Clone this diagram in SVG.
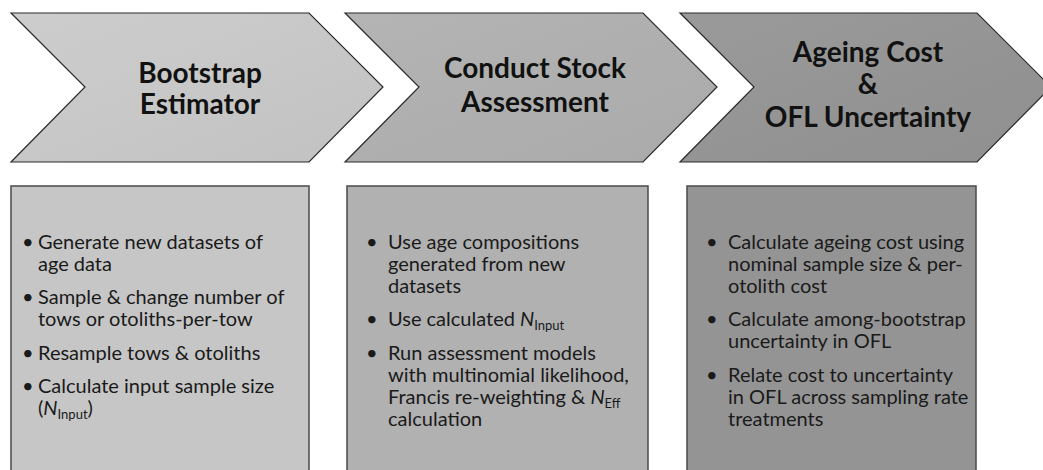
<svg xmlns="http://www.w3.org/2000/svg" width="1043" height="470" viewBox="0 0 1043 470">
<defs>
<linearGradient id="g1" x1="0" y1="0" x2="1" y2="1"><stop offset="0" stop-color="#cdcdcd"/><stop offset="1" stop-color="#c2c2c2"/></linearGradient>
<linearGradient id="g2" x1="0" y1="0" x2="1" y2="1"><stop offset="0" stop-color="#b4b4b4"/><stop offset="1" stop-color="#aaaaaa"/></linearGradient>
<linearGradient id="g3" x1="0" y1="0" x2="1" y2="1"><stop offset="0" stop-color="#9a9a9a"/><stop offset="1" stop-color="#8f8f8f"/></linearGradient>
</defs>
<style>
.chev{stroke:#2a2a2a;stroke-width:1.2}
.box{stroke:#4a4a4a;stroke-width:1.5}
.title{font-family:Lato,"Open Sans",sans-serif;font-weight:bold;font-size:28px;fill:#111;text-anchor:middle}
.body{font-family:Lato,"Open Sans",sans-serif;font-size:20px;fill:#1a1a1a}
.sub{font-size:13px}
</style>
<rect width="1043" height="470" fill="#ffffff"/>
<g id="stage1">
<polygon class="chev" fill="url(#g1)" points="11,13 309,13 383,87 309,162 11,162 85,87"/>
<text class="title" x="200" y="83">Bootstrap</text>
<text class="title" x="200" y="114">Estimator</text>
</g>
<g id="stage2">
<polygon class="chev" fill="url(#g2)" points="345,13 643,13 717,87 643,162 345,162 419,87"/>
<text class="title" x="535" y="78">Conduct Stock</text>
<text class="title" x="535" y="112">Assessment</text>
</g>
<g id="stage3">
<polygon class="chev" fill="url(#g3)" points="680,13 977,13 1051,87 977,162 680,162 754,87"/>
<text class="title" x="868" y="62">Ageing Cost</text>
<text class="title" x="868" y="94">&amp;</text>
<text class="title" x="868" y="127">OFL Uncertainty</text>
</g>
<g id="box1">
<rect class="box" x="11" y="186" width="298" height="295" fill="#c6c6c6"/>
<g class="body">
<text x="22" y="249">•</text><text x="38" y="249">Generate new datasets of</text>
<text x="38" y="271">age data</text>
<text x="22" y="304">•</text><text x="38" y="304">Sample &amp; change number of</text>
<text x="38" y="326">tows or otoliths-per-tow</text>
<text x="22" y="360">•</text><text x="38" y="360">Resample tows &amp; otoliths</text>
<text x="22" y="393">•</text><text x="38" y="393">Calculate input sample size</text>
<text x="38" y="415">(<tspan font-style="italic">N</tspan><tspan class="sub" dy="4">Input</tspan><tspan dy="-4">)</tspan></text>
</g>
</g>
<g id="box2">
<rect class="box" x="347" y="186" width="301" height="295" fill="#b1b1b1"/>
<g class="body">
<text x="366" y="249">•</text><text x="388" y="249">Use age compositions</text>
<text x="388" y="271">generated from new</text>
<text x="388" y="293">datasets</text>
<text x="366" y="326">•</text><text x="388" y="326">Use calculated <tspan font-style="italic">N</tspan><tspan class="sub" dy="4">Input</tspan></text>
<text x="366" y="360">•</text><text x="388" y="360">Run assessment models</text>
<text x="388" y="382">with multinomial likelihood,</text>
<text x="388" y="404">Francis re-weighting &amp; <tspan font-style="italic">N</tspan><tspan class="sub" dy="4">Eff</tspan></text>
<text x="388" y="426">calculation</text>
</g>
</g>
<g id="box3">
<rect class="box" x="687" y="186" width="289" height="295" fill="#949494"/>
<g class="body">
<text x="706" y="249">•</text><text x="728" y="249">Calculate ageing cost using</text>
<text x="728" y="271">nominal sample size &amp; per-</text>
<text x="728" y="293">otolith cost</text>
<text x="706" y="326">•</text><text x="728" y="326">Calculate among-bootstrap</text>
<text x="728" y="348">uncertainty in OFL</text>
<text x="706" y="382">•</text><text x="728" y="382">Relate cost to uncertainty</text>
<text x="728" y="404">in OFL across sampling rate</text>
<text x="728" y="426">treatments</text>
</g>
</g>
<g id="connectors"/>
</svg>
